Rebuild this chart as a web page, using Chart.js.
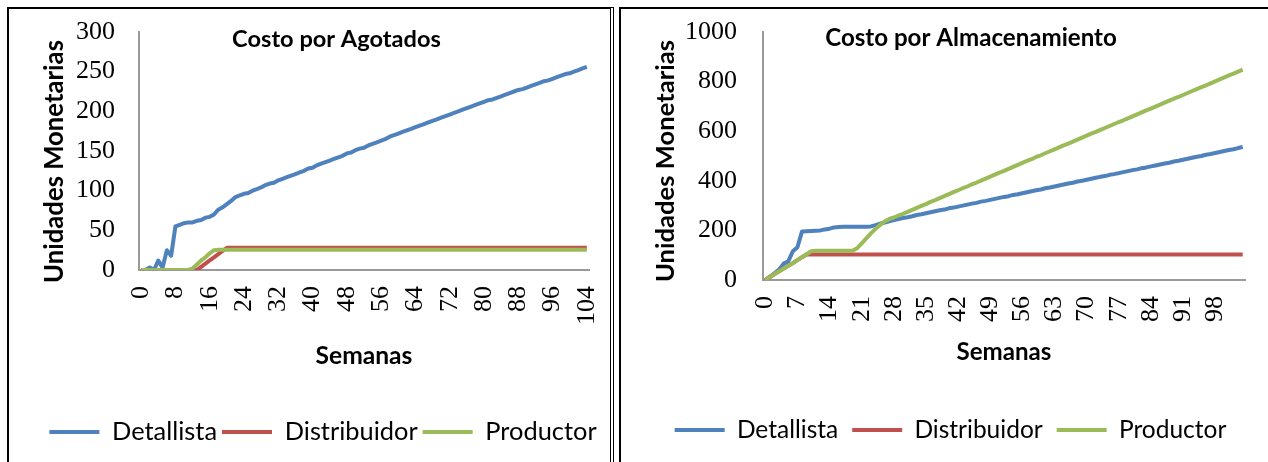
<!DOCTYPE html>
<html>
<head>
<meta charset="utf-8">
<script src="https://cdn.jsdelivr.net/npm/chart.js@4.4.1/dist/chart.umd.min.js"></script>
<style>
  html, body { margin: 0; padding: 0; background: #fff; }
  body { width: 1268px; height: 462px; overflow: hidden; position: relative; }
  .frame { position: absolute; top: 7px; height: 480px; border: 2px solid #000; box-sizing: border-box; }
  #frameA { left: 7px; width: 607px; border-right: 4px double #000; }
  #frameB { left: 619px; width: 680px; }
  canvas { position: absolute; top: 9px; }
  #agotados { left: 9px; }
  #almacenamiento { left: 621px; }
</style>
</head>
<body>
<div class="frame" id="frameA"></div>
<div class="frame" id="frameB"></div>
<canvas id="agotados"></canvas>
<canvas id="almacenamiento"></canvas>
<script>
// Weeks 0..104 on the category axis
const semanas = Array.from({ length: 105 }, (_, i) => String(i));

const seriesNames = ['Detallista', 'Distribuidor', 'Productor'];
const seriesColors = ['#4F81BD', '#C0504D', '#9BBB59'];

// Labelled weeks on each x axis
const ticksAgotados = ['0', '8', '16', '24', '32', '40', '48', '56', '64', '72', '80', '88', '96', '104'];
const ticksAlmacen = ['0', '7', '14', '21', '28', '35', '42', '49', '56', '63', '70', '77', '84', '91', '98'];

// Costo por Agotados (cumulative, per week)
const agotadosDetallista = [
  0, 0, 3, 0, 12, 3, 25, 18, 55, 57,
  59, 60, 60, 62, 63, 66, 67, 70, 76, 79,
  83, 87, 92, 94, 96, 97, 100, 102, 104, 107,
  109, 110, 113, 115, 117, 119, 121, 123, 125, 128,
  129, 132, 134, 136, 138, 140, 142, 144, 147, 148,
  151, 153, 154, 157, 159, 161, 163, 165, 168, 170,
  172, 174, 176, 178, 180, 182, 184, 186, 188, 190,
  192, 194, 196, 198, 200, 202, 204, 206, 208, 210,
  212, 214, 215, 217, 219, 221, 223, 225, 227, 228,
  230, 232, 234, 236, 238, 239, 241, 243, 245, 247,
  248, 250, 252, 254, 256
];
const agotadosDistribuidor = [
  0, 0, 0, 0, 0, 0, 0, 0, 0, 0,
  0, 0, 0, 0, 4, 8, 12, 16, 20, 24,
  28, 28, 28, 28, 28, 28, 28, 28, 28, 28,
  28, 28, 28, 28, 28, 28, 28, 28, 28, 28,
  28, 28, 28, 28, 28, 28, 28, 28, 28, 28,
  28, 28, 28, 28, 28, 28, 28, 28, 28, 28,
  28, 28, 28, 28, 28, 28, 28, 28, 28, 28,
  28, 28, 28, 28, 28, 28, 28, 28, 28, 28,
  28, 28, 28, 28, 28, 28, 28, 28, 28, 28,
  28, 28, 28, 28, 28, 28, 28, 28, 28, 28,
  28, 28, 28, 28, 28
];
const agotadosProductor = [
  0, 0, 0, 0, 0, 0, 0, 0, 0, 0,
  0, 0, 2, 7, 12, 16, 21, 25, 25.5, 25.5,
  25.5, 25.5, 25.5, 25.5, 25.5, 25.5, 25.5, 25.5, 25.5, 25.5,
  25.5, 25.5, 25.5, 25.5, 25.5, 25.5, 25.5, 25.5, 25.5, 25.5,
  25.5, 25.5, 25.5, 25.5, 25.5, 25.5, 25.5, 25.5, 25.5, 25.5,
  25.5, 25.5, 25.5, 25.5, 25.5, 25.5, 25.5, 25.5, 25.5, 25.5,
  25.5, 25.5, 25.5, 25.5, 25.5, 25.5, 25.5, 25.5, 25.5, 25.5,
  25.5, 25.5, 25.5, 25.5, 25.5, 25.5, 25.5, 25.5, 25.5, 25.5,
  25.5, 25.5, 25.5, 25.5, 25.5, 25.5, 25.5, 25.5, 25.5, 25.5,
  25.5, 25.5, 25.5, 25.5, 25.5, 25.5, 25.5, 25.5, 25.5, 25.5,
  25.5, 25.5, 25.5, 25.5, 25.5
];

// Costo por Almacenamiento (cumulative, per week)
const almacenDetallista = [
  0, 14, 27, 42, 66, 75, 116, 132, 196, 197,
  198, 199, 200, 204, 207, 212, 214, 215, 215, 215,
  215, 215, 215, 216, 221, 227, 232, 237, 242, 246,
  250, 253, 257, 262, 265, 269, 273, 277, 281, 284,
  289, 292, 296, 300, 304, 308, 311, 316, 319, 323,
  327, 331, 335, 338, 343, 346, 350, 354, 358, 362,
  365, 370, 373, 377, 381, 385, 389, 392, 397, 400,
  404, 408, 412, 416, 419, 424, 427, 431, 435, 439,
  443, 446, 451, 454, 458, 462, 466, 470, 473, 478,
  481, 485, 489, 493, 497, 500, 505, 508, 512, 516,
  520, 524, 527, 532, 536
];
const almacenDistribuidor = [
  0, 12, 24, 35, 46, 57, 68, 80, 92, 103,
  103, 103, 103, 103, 103, 103, 103, 103, 103, 103,
  103, 103, 103, 103, 103, 103, 103, 103, 103, 103,
  103, 103, 103, 103, 103, 103, 103, 103, 103, 103,
  103, 103, 103, 103, 103, 103, 103, 103, 103, 103,
  103, 103, 103, 103, 103, 103, 103, 103, 103, 103,
  103, 103, 103, 103, 103, 103, 103, 103, 103, 103,
  103, 103, 103, 103, 103, 103, 103, 103, 103, 103,
  103, 103, 103, 103, 103, 103, 103, 103, 103, 103,
  103, 103, 103, 103, 103, 103, 103, 103, 103, 103,
  103, 103, 103, 103, 103
];
const almacenProductor = [
  0, 12, 24, 35, 46, 57, 68, 80, 92, 104,
  116, 118, 118, 118, 118, 118, 118, 118, 118, 118,
  128, 148, 168, 188, 206, 222, 236, 246, 252, 260,
  267, 275, 283, 291, 299, 306, 315, 322, 330, 338,
  346, 354, 362, 370, 377, 386, 393, 401, 409, 417,
  425, 433, 440, 448, 456, 464, 472, 480, 487, 496,
  503, 511, 519, 527, 535, 543, 550, 558, 566, 574,
  582, 590, 597, 605, 613, 621, 629, 637, 644, 652,
  660, 668, 676, 684, 691, 699, 707, 715, 723, 731,
  738, 746, 754, 762, 770, 778, 785, 793, 801, 809,
  817, 825, 832, 840, 848
];

const SANS = "Lato, 'Open Sans', sans-serif";
const SERIF = "'Liberation Serif', 'DejaVu Serif', serif";
const AXIS_COLOR = '#9a9a9a';

// Font size that makes a string span a given width
const measureCtx = document.createElement('canvas').getContext('2d');
function fitSize(text, weight, family, width) {
  measureCtx.font = weight + ' 100px ' + family;
  return Math.round(1000 * width / measureCtx.measureText(text).width) / 10;
}

// Free-standing captions (chart title, rotated value-axis title)
const captionPlugin = {
  id: 'captions',
  afterDraw(chart, args, opts) {
    const ctx = chart.ctx;
    (opts.items || []).forEach(c => {
      ctx.save();
      ctx.font = c.weight + ' ' + c.size + 'px ' + c.family;
      ctx.fillStyle = '#000';
      ctx.textAlign = 'center';
      ctx.textBaseline = 'alphabetic';
      ctx.translate(c.x, c.y);
      if (c.rotate) ctx.rotate(c.rotate);
      ctx.fillText(c.text, 0, 0);
      ctx.restore();
    });
  }
};

function buildChart(canvasId, spec) {
  const el = document.getElementById(canvasId);
  el.width = spec.W;
  el.height = spec.H;

  const legendFs = fitSize('Distribuidor', '400', SANS, spec.legendTextW);
  const xTitleFs = fitSize('Semanas', '700', SANS, spec.xTitleW);
  const tickFs = 26;
  const legendTop = spec.legendMidY - legendFs / 2 - spec.legendGap;
  const legendHeight = legendFs + spec.legendGap + 10;
  const padBottom = spec.H - legendTop - legendHeight;
  const xHeight = legendTop - spec.area.bottom;
  const xTitlePad = legendTop - spec.xTitleMidY - xTitleFs * 1.2 / 2;

  const datasets = spec.series.map((values, i) => ({
    label: seriesNames[i],
    data: values,
    borderColor: seriesColors[i],
    backgroundColor: seriesColors[i],
    borderWidth: 4,
    pointRadius: 0,
    tension: 0,
    borderJoinStyle: 'round',
    order: 3 - i
  }));

  return new Chart(el, {
    type: 'line',
    data: { labels: semanas, datasets },
    plugins: [captionPlugin],
    options: {
      responsive: false,
      animation: false,
      events: [],
      layout: { padding: { left: spec.padLeft, right: 0, top: spec.area.top, bottom: padBottom } },
      plugins: {
        title: { display: false },
        tooltip: { enabled: false },
        legend: {
          position: 'bottom',
          align: 'center',
          labels: {
            boxWidth: 50,
            boxHeight: 4,
            padding: spec.legendGap,
            color: '#000',
            font: { family: SANS, size: legendFs, weight: 'normal' },
            sort: (a, b) => a.datasetIndex - b.datasetIndex,
            generateLabels(chart) {
              const items = Chart.defaults.plugins.legend.labels.generateLabels(chart);
              items.forEach(it => { it.lineWidth = 0; it.fillStyle = it.strokeStyle; });
              return items;
            }
          }
        },
        captions: {
          items: [
            { text: spec.title, x: spec.titleX, y: spec.titleY, weight: '700', family: SANS,
              size: fitSize(spec.title, '700', SANS, spec.titleW) },
            { text: 'Unidades Monetarias', x: spec.yTitleX, y: spec.yTitleY, rotate: -Math.PI / 2,
              weight: '700', family: SANS, size: fitSize('Unidades Monetarias', '700', SANS, spec.yTitleW) }
          ]
        }
      },
      scales: {
        x: {
          type: 'category',
          offset: true,
          grid: { display: false, drawTicks: false },
          border: { display: true, color: AXIS_COLOR, width: 2 },
          ticks: {
            autoSkip: false,
            maxRotation: 90,
            minRotation: 90,
            padding: spec.xTickPad,
            color: '#000',
            font: { family: SERIF, size: tickFs },
            callback(value) {
              const lab = this.getLabelForValue(value);
              return spec.tickLabels.includes(lab) ? lab : '';
            }
          },
          title: {
            display: true,
            text: 'Semanas',
            color: '#000',
            font: { family: SANS, size: xTitleFs, weight: 'bold' },
            padding: { top: 0, bottom: xTitlePad }
          },
          afterFit(scale) {
            scale.height = xHeight;
            scale.paddingLeft = 0;
            scale.paddingRight = 0;
          }
        },
        y: {
          min: 0,
          max: spec.yMax,
          grid: { display: false, drawTicks: false },
          border: { display: true, color: AXIS_COLOR, width: 2 },
          ticks: {
            stepSize: spec.yStep,
            padding: spec.yTickPad,
            color: '#000',
            font: { family: SERIF, size: tickFs },
            callback: (value) => String(value)
          },
          afterFit(scale) {
            scale.width = spec.area.left - spec.padLeft;
            scale.paddingTop = 0;
            scale.paddingBottom = 0;
          }
        },
        gap: {
          type: 'linear',
          position: 'right',
          display: true,
          grid: { display: false, drawTicks: false },
          border: { display: false },
          ticks: { display: false },
          afterFit(scale) {
            scale.width = spec.W - spec.area.right;
            scale.paddingTop = 0;
            scale.paddingBottom = 0;
          }
        }
      }
    }
  });
}

buildChart('agotados', {
  W: 602, H: 453,
  area: { left: 130, top: 23, right: 580, bottom: 261 },
  padLeft: 26,
  series: [agotadosDetallista, agotadosDistribuidor, agotadosProductor],
  tickLabels: ticksAgotados,
  yMax: 300, yStep: 50, yTickPad: 24, xTickPad: 16,
  title: 'Costo por Agotados', titleX: 327.5, titleY: 38, titleW: 209,
  yTitleX: 54, yTitleY: 152.5, yTitleW: 243,
  xTitleW: 97, xTitleMidY: 347,
  legendTextW: 133, legendGap: 5, legendMidY: 423
});

buildChart('almacenamiento', {
  W: 647, H: 453,
  area: { left: 142, top: 23, right: 624, bottom: 271 },
  padLeft: 12,
  series: [almacenDetallista, almacenDistribuidor, almacenProductor],
  tickLabels: ticksAlmacen,
  yMax: 1000, yStep: 200, yTickPad: 26, xTickPad: 16,
  title: 'Costo por Almacenamiento', titleX: 350, titleY: 37, titleW: 291,
  yTitleX: 53, yTitleY: 152, yTitleW: 242,
  xTitleW: 95, xTitleMidY: 343,
  legendTextW: 128, legendGap: 14, legendMidY: 421
});
</script>
</body>
</html>
